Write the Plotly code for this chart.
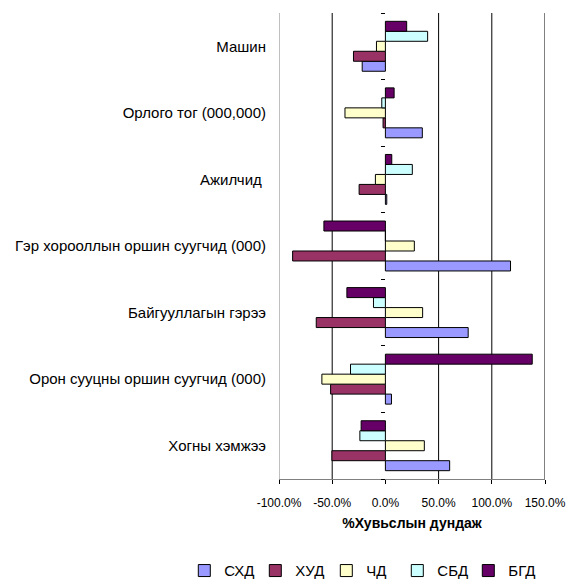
"""Хувьслын дундаж — хэвтээ баганан график."""

import plotly.graph_objects as go

# Ангилал (доороос дээш дарааллаар)
CATEGORIES = [
    "Хогны хэмжээ",
    "Орон сууцны оршин суугчид (000)",
    "Байгууллагын гэрээ",
    "Гэр хорооллын оршин суугчид (000)",
    "Ажилчид ",
    "Орлого тог (000,000)",
    "Машин",
]

# Цуврал бүрийн утга (%), CATEGORIES-ийн дарааллаар
SXD = [60.4, 5.7, 77.8, 117.6, 1.3, 34.7, -21.8]
XUD = [-50.3, -51.5, -65.0, -87.2, -24.7, -2.2, -30.0]
CHD = [36.6, -59.7, 35.0, 27.2, -9.4, -38.0, -8.4]
SBD = [-24.0, -32.8, -11.2, 0.0, 25.3, -3.4, 39.7]
BGD = [-22.8, 138.0, -36.2, -57.8, 6.0, 8.2, 20.0]

SERIES = [
    ("СХД", SXD, "#9999FF"),
    ("ХУД", XUD, "#993366"),
    ("ЧД", CHD, "#FFFFCC"),
    ("СБД", SBD, "#CCFFFF"),
    ("БГД", BGD, "#660066"),
]

TICK_VALS = [-100, -50, 0, 50, 100, 150]
GRID_VALS = [-50, 50, 100, 150]

FONT = "Liberation Sans, Arial, sans-serif"

fig = go.Figure()

for name, values, color in SERIES:
    fig.add_trace(
        go.Bar(
            y=CATEGORIES,
            x=values,
            name=name,
            orientation="h",
            marker={"color": color, "line": {"color": "#000000", "width": 1}},
        )
    )

# Тэг дээрх ангиллын тэнхлэгийн зураас (ангилал хоорондын тэмдэг)
fig.add_trace(
    go.Scatter(
        y=CATEGORIES,
        x=[0] * len(CATEGORIES),
        mode="markers",
        marker={"opacity": 0},
        yaxis="y2",
        showlegend=False,
        hoverinfo="skip",
    )
)

for v in GRID_VALS:
    fig.add_vline(x=v, line_color="#000000", line_width=1, layer="below")
fig.add_vline(x=-100, line_color="#808080", line_width=1, layer="below")

fig.update_layout(
    width=568,
    height=582,
    paper_bgcolor="white",
    plot_bgcolor="white",
    font={"family": FONT, "color": "#000000"},
    barmode="group",
    bargap=0.25,
    bargroupgap=0,
    margin={"l": 279, "r": 23, "t": 13, "b": 103, "autoexpand": False},
    xaxis={
        "range": [-100, 150],
        "tickvals": TICK_VALS,
        "ticktext": [f"{v:.1f}%" for v in TICK_VALS],
        "tickfont": {"size": 12},
        "ticks": "outside",
        "ticklen": 4,
        "tickcolor": "#000000",
        "ticklabelstandoff": 9,
        "showgrid": False,
        "zeroline": False,
        "showline": True,
        "linecolor": "#808080",
        "automargin": False,
        "title": {
            "text": "<b>%Хувьслын дундаж</b>",
            "font": {"size": 14},
            "standoff": 8,
        },
    },
    yaxis={
        "type": "category",
        "categoryarray": CATEGORIES,
        "range": [-0.5, len(CATEGORIES) - 0.5],
        "tickfont": {"size": 15},
        "ticks": "",
        "ticklabelstandoff": 12,
        "showgrid": False,
        "zeroline": False,
        "showline": False,
        "automargin": False,
    },
    yaxis2={
        "type": "category",
        "categoryarray": CATEGORIES,
        "range": [-0.5, len(CATEGORIES) - 0.5],
        "overlaying": "y",
        "anchor": "free",
        "position": 0.4,
        "showticklabels": False,
        "ticks": "outside",
        "tickson": "boundaries",
        "ticklen": 4,
        "tickcolor": "#000000",
        "showgrid": False,
        "showline": False,
        "zeroline": False,
        "automargin": False,
    },
    legend={
        "orientation": "h",
        "x": -0.356,
        "xanchor": "left",
        "y": -0.197,
        "yanchor": "middle",
        "font": {"size": 15},
        "traceorder": "normal",
        "itemwidth": 30,
        "entrywidth": 26,
        "entrywidthmode": "pixels",
    },
)

fig.write_html(
    "out.html",
    config={"displayModeBar": False},
    post_script="document.body.style.margin = '0';",
)
